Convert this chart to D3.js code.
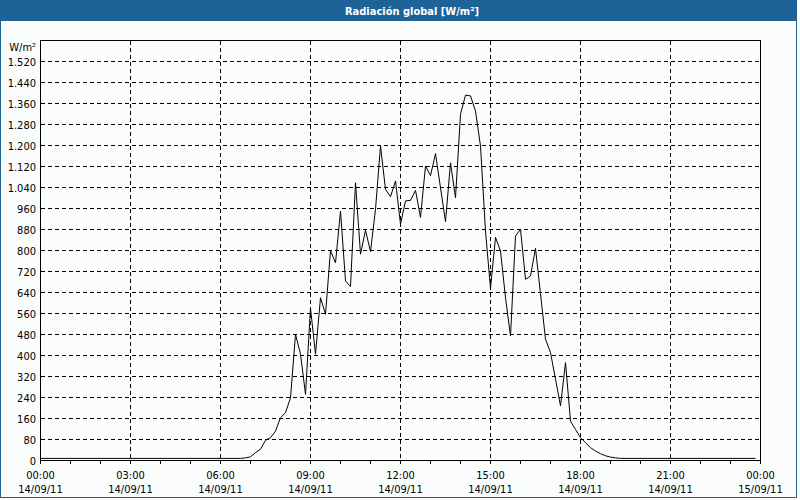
<!DOCTYPE html>
<html><head><meta charset="utf-8">
<script src="https://cdn.jsdelivr.net/npm/d3@7"></script>
<style>body{margin:0;background:#fff}svg{display:block}</style>
</head><body>
<svg id="c" width="800" height="500"></svg>
<script>
const chartTitle = "Radiación global [W/m²]";
const unitLabel = "W/m²";

const times = ["00:00","06:40","06:50","07:00","07:10","07:20","07:30","07:40","07:50","08:00","08:10","08:20","08:30","08:40","08:50","09:00","09:10","09:20","09:30","09:40","09:50","10:00","10:10","10:20","10:30","10:40","10:50","11:00","11:10","11:20","11:30","11:40","11:50","12:00","12:10","12:20","12:30","12:40","12:50","13:00","13:10","13:20","13:30","13:40","13:50","14:00","14:10","14:20","14:30","14:40","14:50","15:00","15:10","15:20","15:30","15:40","15:50","16:00","16:10","16:20","16:30","16:40","16:50","17:00","17:10","17:20","17:30","17:40","17:50","18:00","18:10","18:20","18:30","18:40","18:50","19:00","19:10","19:20","23:50"];
const values = [8,8,10,14,30,43,77,87,112,163,182,239,481,405,252,580,405,620,557,800,753,950,684,663,1058,786,877,796,957,1198,1033,1005,1065,900,989,991,1029,926,1122,1085,1169,1039,910,1134,1001,1319,1392,1389,1331,1198,874,655,850,798,620,474,855,881,690,703,808,635,462,411,310,208,373,150,118,87,68,49,36,26,18,13,10,8,8];

const xTickHours = [0,3,6,9,12,15,18,21,24];
const xTickTimes = ["00:00","03:00","06:00","09:00","12:00","15:00","18:00","21:00","00:00"];
const xTickDates = ["14/09/11","14/09/11","14/09/11","14/09/11","14/09/11","14/09/11","14/09/11","14/09/11","15/09/11"];
const yTicks = [0,80,160,240,320,400,480,560,640,720,800,880,960,1040,1120,1200,1280,1360,1440,1520];

const BLUE = "#1e6397";
const FONT = "'DejaVu Sans Condensed','DejaVu Sans',sans-serif";
const svg = d3.select("#c");

svg.append("rect").attr("x",0).attr("y",0).attr("width",797).attr("height",498).attr("fill",BLUE);
svg.append("rect").attr("x",1).attr("y",21).attr("width",795).attr("height",476).attr("fill","#fbfdfd");
svg.append("text").attr("x",412).attr("y",14.5).attr("text-anchor","middle")
  .attr("font-family",FONT).attr("font-size",11).attr("font-weight","bold").attr("fill","#fff").text(chartTitle);

const x = d3.scaleLinear().domain([0,24]).range([40.5,760.5]);
const y = d3.scaleLinear().domain([0,1600]).range([460.5,40.5]);
const fmt = d3.formatLocale({decimal:",",thousands:".",grouping:[3],currency:["","€"]}).format(",d");
const toH = s => { const [h,m] = s.split(":").map(Number); return h + m/60; };

const g = svg.append("g").attr("shape-rendering","crispEdges");
// horizontal grid
g.selectAll(".hg").data(yTicks.filter(v=>v>0)).enter().append("line")
  .attr("x1",x(0)).attr("x2",x(24)).attr("y1",d=>y(d)).attr("y2",d=>y(d))
  .attr("stroke","#000").attr("stroke-dasharray","4,3");
// vertical grid
g.selectAll(".vg").data(xTickHours.slice(1,-1)).enter().append("line")
  .attr("x1",d=>x(d)).attr("x2",d=>x(d)).attr("y1",y(1600)).attr("y2",y(0))
  .attr("stroke","#000").attr("stroke-dasharray","4,3");
// hourly ticks
g.selectAll(".mt").data(d3.range(0,25)).enter().append("line")
  .attr("x1",d=>x(d)).attr("x2",d=>x(d)).attr("y1",y(0)).attr("y2",y(0)+3)
  .attr("stroke","#000");
// frame
g.append("rect").attr("x",x(0)).attr("y",y(1600)).attr("width",x(24)-x(0)).attr("height",y(0)-y(1600))
  .attr("fill","none").attr("stroke","#000");

// y labels
svg.selectAll(".yl").data(yTicks).enter().append("text")
  .attr("x",36).attr("y",d=>y(d)+4).attr("text-anchor","end")
  .attr("font-family",FONT).attr("font-size",11).attr("fill","#000").text(d=>fmt(d));
svg.append("text").attr("x",36).attr("y",51).attr("text-anchor","end")
  .attr("font-family",FONT).attr("font-size",11).attr("fill","#000").text(unitLabel);

// x labels
xTickHours.forEach((h,i)=>{
  svg.append("text").attr("x",x(h)).attr("y",479).attr("text-anchor","middle")
    .attr("font-family",FONT).attr("font-size",11).attr("fill","#000").text(xTickTimes[i]);
  svg.append("text").attr("x",x(h)).attr("y",493).attr("text-anchor","middle")
    .attr("font-family",FONT).attr("font-size",11).attr("fill","#000").text(xTickDates[i]);
});

// data line
const pts = times.map((t,i)=>[toH(t), values[i]]);
svg.append("path").datum(pts)
  .attr("d", d3.line().x(d=>x(d[0])).y(d=>y(d[1])))
  .attr("fill","none").attr("stroke","#000").attr("stroke-width",1);
</script>
</body></html>
